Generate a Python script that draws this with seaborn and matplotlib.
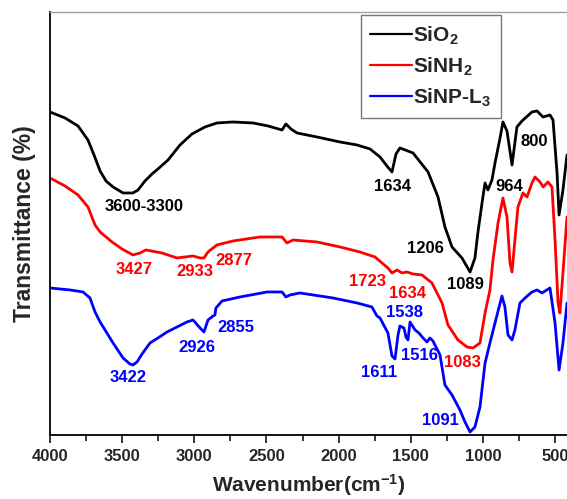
import numpy as np
import pandas as pd
import seaborn as sns
import matplotlib.pyplot as plt

# wavenumber (cm-1) and transmittance (a.u.)
wn_sio2 = [4000, 3896, 3806, 3737, 3695, 3653, 3612, 3563, 3494, 3425, 3390, 3342, 3293, 3252,
           3182, 3099, 3016, 2926, 2843, 2732, 2593, 2489, 2392, 2365, 2330, 2288, 2150, 1990,
           1872, 1782, 1713, 1665, 1630, 1602, 1575, 1484, 1380, 1311, 1263, 1214, 1145, 1089,
           1055, 1034, 1006, 985, 965, 937, 916, 881, 861, 833, 798, 764, 729, 660, 625, 583,
           535, 514, 486, 472, 445, 417]
t_sio2 = [323, 317, 309, 295, 280, 264, 254, 248, 242, 242, 245, 254, 261, 266,
          275, 290, 301, 308, 312, 313, 312, 309, 305, 311, 306, 302, 298, 293,
          290, 286, 278, 269, 263, 281, 287, 282, 263, 238, 208, 188, 177, 163,
          177, 203, 232, 252, 245, 255, 272, 297, 313, 304, 270, 308, 314, 323, 324, 318,
          320, 315, 262, 220, 245, 280]

wn_sinh2 = [4000, 3896, 3806, 3737, 3688, 3653, 3570, 3501, 3425, 3376, 3335, 3224, 3120, 3009,
            2960, 2933, 2905, 2870, 2843, 2732, 2545, 2392, 2358, 2316, 2150, 1990, 1852, 1748,
            1658, 1630, 1595, 1561, 1526, 1484, 1422, 1353, 1283, 1242, 1173, 1110, 1069, 1020,
            985, 951, 930, 895, 861, 833, 812, 798, 778, 757, 722, 694, 660, 639, 604, 583,
            549, 521, 500, 479, 466, 445, 417]
t_sinh2 = [257, 249, 240, 228, 210, 203, 193, 186, 180, 182, 185, 182, 177, 179,
           177, 177, 183, 187, 190, 194, 198, 198, 192, 195, 193, 188, 183, 178,
           167, 162, 165, 162, 163, 161, 160, 152, 132, 110, 95, 88, 87, 92,
           122, 145, 175, 212, 237, 218, 172, 163, 195, 228, 242, 238, 252, 258, 253, 248,
           253, 248, 195, 132, 122, 162, 218]

wn_l3 = [4000, 3861, 3771, 3723, 3688, 3653, 3563, 3494, 3446, 3425, 3397, 3362, 3307, 3252,
         3189, 3051, 3009, 2960, 2933, 2905, 2870, 2857, 2850, 2808, 2683, 2496, 2392, 2365,
         2337, 2268, 2039, 1872, 1769, 1734, 1713, 1658, 1630, 1609, 1588, 1575, 1547, 1533,
         1519, 1505, 1470, 1443, 1415, 1387, 1367, 1346, 1297, 1263, 1214, 1159, 1124, 1089,
         1055, 1020, 985, 951, 916, 868, 847, 826, 798, 778, 743, 708, 660, 625, 590, 535,
         500, 472, 445, 417]
t_l3 = [147, 145, 143, 137, 123, 113, 92, 77, 71, 70, 73, 81, 92, 97,
        103, 113, 115, 107, 103, 115, 119, 120, 127, 134, 138, 143, 143, 138,
        140, 142, 137, 132, 128, 119, 117, 102, 79, 76, 100, 109, 107, 98,
        95, 113, 105, 102, 97, 93, 97, 94, 80, 50, 40, 25, 13, 3,
        8, 28, 72, 92, 112, 139, 128, 100, 95, 105, 132, 137, 143, 145, 142, 147,
        112, 65, 92, 132]

series = ["SiO$_2$", "SiNH$_2$", "SiNP-L$_3$"]
colors = ["black", "#ff0000", "#0000ff"]

# peak labels: (text, wavenumber, y, colour index)
labels = [("3600-3300", 3349, 228, 0), ("1634", 1623, 248, 0), ("1206", 1401, 186, 0),
          ("1089", 1124, 150, 0), ("964", 819, 248, 0), ("800", 646, 293, 0),
          ("3427", 3418, 165, 1), ("2933", 2995, 163, 1), ("2877", 2725, 174, 1),
          ("1723", 1803, 153, 1), ("1634", 1519, 141, 1), ("1083", 1145, 72, 1),
          ("3422", 3459, 57, 2), ("2926", 2981, 87, 2), ("2855", 2711, 107, 2),
          ("1538", 1540, 122, 2), ("1516", 1436, 79, 2), ("1611", 1720, 62, 2),
          ("1091", 1297, 14, 2)]

df = pd.concat([
    pd.DataFrame({"wn": wn_sio2, "t": t_sio2, "sample": series[0]}),
    pd.DataFrame({"wn": wn_sinh2, "t": t_sinh2, "sample": series[1]}),
    pd.DataFrame({"wn": wn_l3, "t": t_l3, "sample": series[2]}),
])

sns.set_style("white")
plt.rcParams["font.family"] = ["Liberation Sans", "DejaVu Sans"]
plt.rcParams["font.weight"] = "bold"
plt.rcParams["mathtext.fontset"] = "custom"
plt.rcParams["mathtext.rm"] = "Liberation Sans:bold"
plt.rcParams["mathtext.bf"] = "Liberation Sans:bold"
plt.rcParams["mathtext.default"] = "bf"
plt.rcParams["lines.solid_joinstyle"] = "round"

fig = plt.figure(figsize=(5.67, 4.99), dpi=100)
ax = fig.add_axes([0.0882, 0.1283, 0.9118, 0.8477])

sns.lineplot(data=df, x="wn", y="t", hue="sample", palette=colors, sort=False,
             linewidth=2.0, ax=ax)

for txt, x, y, c in labels:
    ax.text(x, y, txt, color=colors[c], fontsize=12, fontweight="bold",
            ha="center", va="center")

ax.set_xlim(4000, 417)
ax.set_ylim(0, 423)
ax.set_xticks([4000, 3500, 3000, 2500, 2000, 1500, 1000, 500])
ax.set_xticks(np.arange(3750, 400, -500), minor=True)
ax.set_yticks([])
ax.tick_params(axis="x", which="major", direction="out", length=6, width=1.3,
               labelsize=12, bottom=True, pad=4)
ax.tick_params(axis="x", which="minor", direction="out", length=4, width=1.3, bottom=True)
for lab in ax.get_xticklabels():
    lab.set_fontweight("bold")

ax.set_xlabel("Wavenumber(cm$^{-1}$)", fontsize=15, fontweight="bold", labelpad=6)
ax.set_ylabel("Transmittance (%)", fontsize=16.5, fontweight="bold", labelpad=10)

ax.spines["right"].set_visible(False)
ax.spines["top"].set_color("#a0a0a0")
ax.spines["top"].set_linewidth(1.0)
for s in ["left", "bottom"]:
    ax.spines[s].set_color("black")
    ax.spines[s].set_linewidth(1.3)

leg = ax.legend(loc="upper left", bbox_to_anchor=(0.6015, 0.993), borderaxespad=0,
                fontsize=15, frameon=True, fancybox=False, edgecolor="#555555",
                handlelength=2.0, labelspacing=0.42, borderpad=0.45, handletextpad=0.05,
                title=None)
leg.get_frame().set_linewidth(1.0)
for t in leg.get_texts():
    t.set_fontweight("bold")
for h in leg.get_lines():
    h.set_linewidth(1.6)

fig.savefig("out.png", dpi=100)
